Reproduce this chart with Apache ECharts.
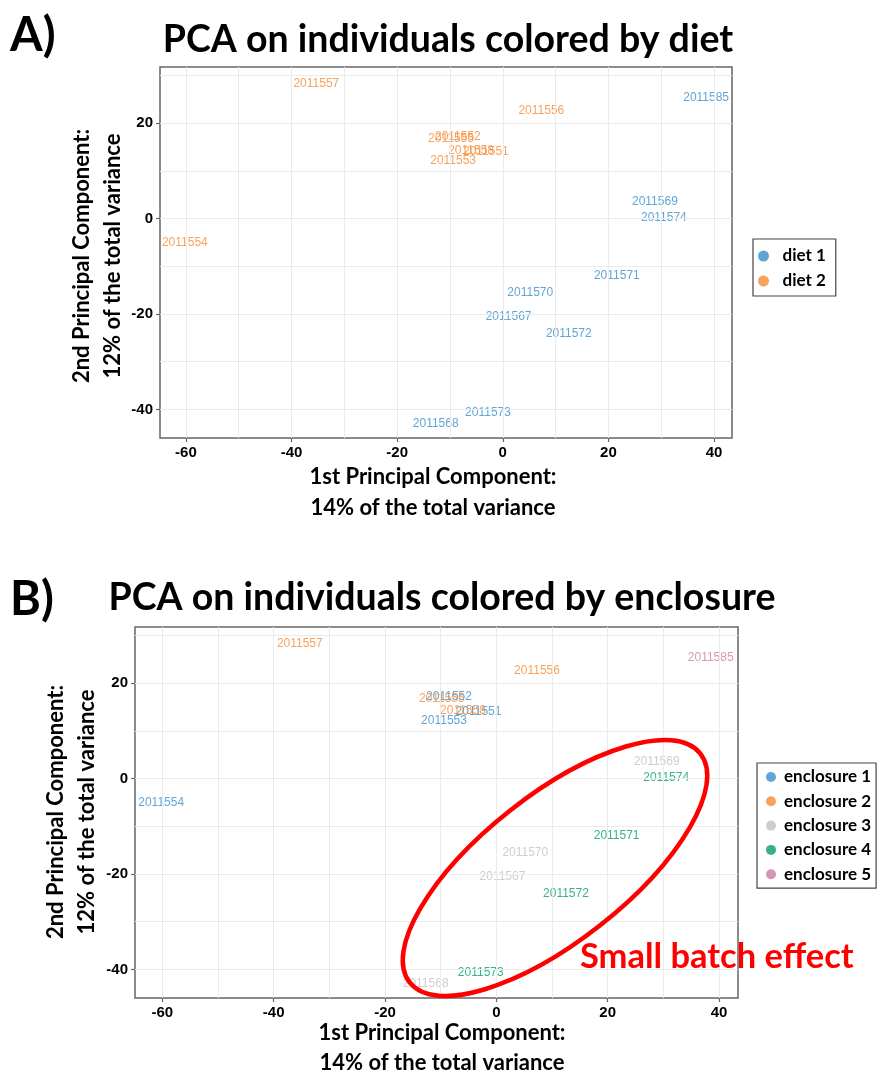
<!DOCTYPE html>
<html><head><meta charset="utf-8">
<script src="https://cdn.jsdelivr.net/npm/echarts@6/dist/echarts.min.js"></script>
<style>html,body{margin:0;padding:0;background:#fff}#c{width:882px;height:1075px}</style>
</head><body><div id="c"></div>
<script>
// ---- data ----
const sampleIds = ['2011557','2011556','2011585','2011555','2011552','2011558','2011551','2011553','2011554','2011569','2011574','2011571','2011570','2011567','2011572','2011573','2011568'];
const pc1 = [-35.3, 7.3, 38.5, -9.8, -8.5, -6.0, -3.2, -9.4, -60.2, 28.8, 30.5, 21.6, 5.2, 1.1, 12.5, -2.8, -12.7];
const pc2 = [28.2, 22.6, 25.4, 16.8, 17.1, 14.2, 14.1, 12.2, -5.1, 3.6, 0.2, -11.9, -15.5, -20.5, -24.1, -40.6, -42.9];
const dietGroup = [2,2,1,2,2,2,2,2,2,1,1,1,1,1,1,1,1];
const enclosureGroup = [2,2,5,2,1,2,1,1,1,3,4,4,3,3,4,4,3];
const dietNames = ['diet 1','diet 2'];
const enclosureNames = ['enclosure 1','enclosure 2','enclosure 3','enclosure 4','enclosure 5'];
const groupColors = ['#388ECC','#F68B33','#C2C2C2','#009E73','#CC79A7'];
const xTickValues = [-60,-40,-20,0,20,40];
const yTickValues = [-40,-20,0,20];
const xGridValues = [-60,-50,-40,-30,-20,-10,0,10,20,30,40];
const yGridValues = [-40,-30,-20,-10,0,10,20,30];
const xRange = [-64.9, 43.4];
const yRange = [-46.0, 31.8];

const TITLE_FONT = 'Lato';
const TICK_FONT = 'Liberation Sans';

function groupData(groups, g) {
  const out = [];
  for (let i = 0; i < sampleIds.length; i++) {
    if (groups[i] === g) out.push([pc1[i], pc2[i], sampleIds[i]]);
  }
  return out;
}
function gridMarkLine() {
  return {
    silent: true, symbol: ['none','none'], animation: false,
    label: {show: false},
    lineStyle: {color: '#EBEBEB', width: 1, type: 'solid'},
    emphasis: {disabled: true},
    data: xGridValues.map(v => ({xAxis: v})).concat(yGridValues.map(v => ({yAxis: v})))
  };
}
function makeSeries(names, groups, gridIdx) {
  return names.map((n, k) => {
    const s = {
      name: n, type: 'scatter', xAxisIndex: gridIdx, yAxisIndex: gridIdx,
      symbolSize: 0, silent: true, animation: false,
      itemStyle: {color: groupColors[k]},
      label: {show: true, position: 'inside', formatter: p => p.data[2],
        color: groupColors[k], fontFamily: TICK_FONT, fontSize: 12},
      data: groupData(groups, k + 1)
    };
    if (k === 0) s.markLine = gridMarkLine();
    return s;
  });
}
function xAx(gridIdx) {
  return {
    type: 'value', gridIndex: gridIdx, min: xRange[0], max: xRange[1],
    axisLine: {show: false, onZero: false},
    axisTick: {show: true, length: 4, lineStyle: {color: '#666', width: 1.2}, customValues: xTickValues},
    axisLabel: {customValues: xTickValues, color: '#000', fontFamily: TICK_FONT, fontWeight: 'bold', fontSize: 15, margin: 7},
    splitLine: {show: false}
  };
}
function yAx(gridIdx) {
  return {
    type: 'value', gridIndex: gridIdx, min: yRange[0], max: yRange[1],
    axisLine: {show: false, onZero: false},
    axisTick: {show: true, length: 4, lineStyle: {color: '#666', width: 1.2}, customValues: yTickValues},
    axisLabel: {customValues: yTickValues, color: '#000', fontFamily: TICK_FONT, fontWeight: 'bold', fontSize: 15, margin: 7},
    splitLine: {show: false}
  };
}
function txt(s, x, y, size, opts) {
  opts = opts || {};
  return {
    type: 'text', x: x, y: y, rotation: opts.rot || 0, silent: true, z: opts.z || 50,
    style: {text: s, x: 0, y: 0, fill: opts.color || '#000',
      font: 'bold ' + size + 'px ' + TITLE_FONT,
      textAlign: opts.align || 'center', textVerticalAlign: 'middle'}
  };
}

const chart = echarts.init(document.getElementById('c'), null, {renderer: 'canvas'});
chart.setOption({
  backgroundColor: '#fff',
  animation: false,
  grid: [
    {left: 160, top: 67, width: 572, height: 371, show: true, borderColor: '#666', borderWidth: 1.5, backgroundColor: 'transparent', containLabel: false},
    {left: 135, top: 627, width: 603, height: 371, show: true, borderColor: '#666', borderWidth: 1.5, backgroundColor: 'transparent', containLabel: false}
  ],
  xAxis: [xAx(0), xAx(1)],
  yAxis: [yAx(0), yAx(1)],
  legend: [
    {data: dietNames, orient: 'vertical', left: 753, top: 239, icon: 'circle', itemWidth: 16, itemHeight: 11,
     itemGap: 7, padding: [8, 10, 6, 5], borderColor: '#444', borderWidth: 1.2, selectedMode: false,
     textStyle: {fontFamily: TITLE_FONT, fontWeight: 'bold', fontSize: 17, color: '#000', lineHeight: 18, padding: [0, 0, 0, 6]}},
    {data: enclosureNames, orient: 'vertical', left: 757, top: 763, icon: 'circle', itemWidth: 16, itemHeight: 10,
     itemGap: 6.3, padding: [5, 5, 5, 9], borderColor: '#444', borderWidth: 1.2, selectedMode: false,
     textStyle: {fontFamily: TITLE_FONT, fontWeight: 'bold', fontSize: 17, color: '#000', lineHeight: 18}}
  ],
  series: makeSeries(dietNames, dietGroup, 0).concat(makeSeries(enclosureNames, enclosureGroup, 1)),
  graphic: [
    txt('A)', 10, 36, 47, {align: 'left'}),
    txt('PCA on individuals colored by diet', 448, 40, 37.5),
    txt('1st Principal Component:', 433, 477, 22),
    txt('14% of the total variance', 433, 508, 22),
    txt('2nd Principal Component:', 82, 256, 22, {rot: Math.PI / 2}),
    txt('12% of the total variance', 113, 256, 22, {rot: Math.PI / 2}),
    txt('B)', 10, 600, 47, {align: 'left'}),
    txt('PCA on individuals colored by enclosure', 442, 598, 37.5),
    txt('1st Principal Component:', 442, 1033, 22),
    txt('14% of the total variance', 442, 1063, 22),
    txt('2nd Principal Component:', 56, 812, 22, {rot: Math.PI / 2}),
    txt('12% of the total variance', 87, 812, 22, {rot: Math.PI / 2}),
    txt('Small batch effect', 580, 957, 34.5, {align: 'left', color: '#FF0000'}),
    {type: 'ellipse', x: 555, y: 868, rotation: 0.667, silent: true, z: 100,
     shape: {cx: 0, cy: 0, rx: 185, ry: 73},
     style: {fill: 'none', stroke: '#FF0000', lineWidth: 4.5}}
  ]
});
</script>
</body></html>
